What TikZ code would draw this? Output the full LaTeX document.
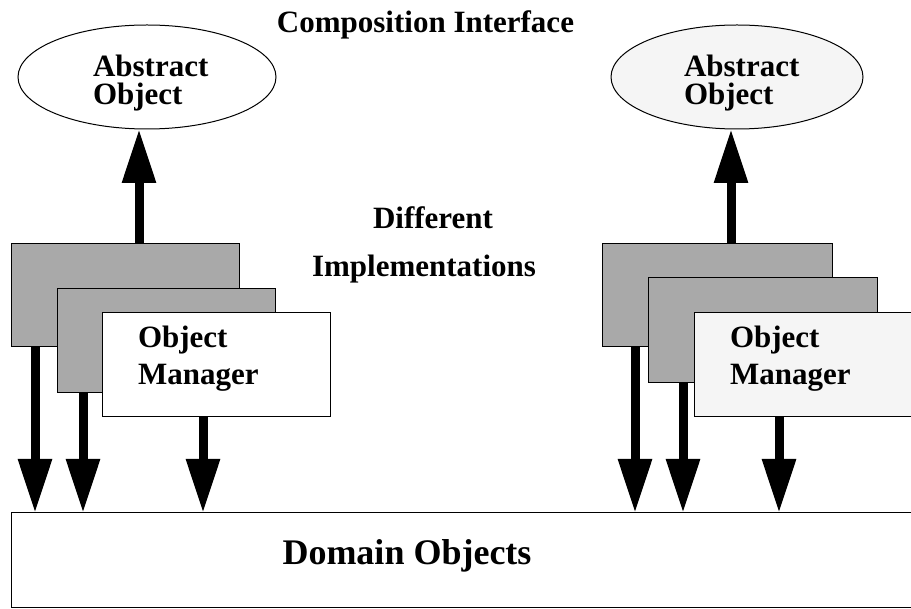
\documentclass[tikz,border=0pt]{standalone}
\usepackage{fontspec}
\setmainfont{Liberation Serif}
\usetikzlibrary{arrows.meta,shapes.geometric}
\definecolor{implgray}{HTML}{A9A9A9}
\definecolor{palefill}{HTML}{F5F5F5}
\begin{document}
\begin{tikzpicture}[x=1pt,y=-1pt,
  lbl/.style={font=\fontsize{31}{28}\selectfont\bfseries, inner sep=0pt, outer sep=0pt},
  twoline/.style={lbl, align=left, anchor=north west, font=\fontsize{31}{#1}\selectfont\bfseries},
  absobj/.style={ellipse, draw, line width=1pt, inner sep=0pt, outer sep=0pt, minimum height=104pt},
  implbox/.style={rectangle, draw, line width=1pt, inner sep=0pt, outer sep=0pt},
  bigarrow/.style={line width=9pt, -{Triangle[length=54pt,width=32pt]}}
]
\clip (0,0) rectangle (911,609);
\fill[white] (0,0) rectangle (911,609);

% headings
\node[lbl, anchor=base] (comp) at (425.5,33) {Composition Interface};
\node[lbl, anchor=base] (diff) at (433,229) {Different};
\node[lbl, anchor=base] (impl) at (424,277) {Implementations};

% shared domain layer
\node[implbox, minimum width=919pt, minimum height=94pt] (dom) at (470.5,560) {};
\node[lbl, font=\fontsize{36}{40}\selectfont\bfseries, anchor=base] (domtxt) at (407,565) {Domain Objects};

% left stack
\node[absobj, fill=white, minimum width=258pt] (e1) at (147,77) {};
\node[twoline=28.5] (a1) at ([shift={(75,29.5)}]e1.north -| e1.west) {Abstract\\Object};
\node[implbox, fill=implgray, minimum width=228pt, minimum height=103pt] (b1a) at (125,295.5) {};
\node[implbox, fill=implgray, minimum width=218pt, minimum height=104pt] (b1b) at (166,341) {};
\node[implbox, fill=white, minimum width=228pt, minimum height=104pt] (b1c) at (216,365) {};
\node[twoline=37] (m1) at ([shift={(36,12.5)}]b1c.north west) {Object\\Manager};

% right stack
\node[absobj, fill=palefill, minimum width=252pt] (e2) at (737,77) {};
\node[twoline=28.5] (a2) at ([shift={(73,29.5)}]e2.north -| e2.west) {Abstract\\Object};
\node[implbox, fill=implgray, minimum width=230pt, minimum height=103pt] (b2a) at (717,295.5) {};
\node[implbox, fill=implgray, minimum width=229pt, minimum height=105pt] (b2b) at (762.5,330.5) {};
\node[implbox, fill=palefill, minimum width=240pt, minimum height=104pt] (b2c) at (814,365) {};
\node[twoline=37] (m2) at ([shift={(36,12.5)}]b2c.north west) {Object\\Manager};

% interface arrows
\draw[bigarrow] ([xshift=14pt]b1a.north) -- ([xshift=14pt]b1a.north |- e1.south);
\draw[bigarrow] ([xshift=14pt]b2a.north) -- ([xshift=14pt]b2a.north |- e2.south);

% arrows down to the domain objects
\draw[bigarrow] ([xshift=24pt]b1a.south west) -- ([xshift=24pt]b1a.south west |- dom.north);
\draw[bigarrow] ([xshift=26pt]b1b.south west) -- ([xshift=26pt]b1b.south west |- dom.north);
\draw[bigarrow] ([xshift=101pt]b1c.south west) -- ([xshift=101pt]b1c.south west |- dom.north);
\draw[bigarrow] ([xshift=33pt]b2a.south west) -- ([xshift=33pt]b2a.south west |- dom.north);
\draw[bigarrow] ([xshift=35pt]b2b.south west) -- ([xshift=35pt]b2b.south west |- dom.north);
\draw[bigarrow] ([xshift=85pt]b2c.south west) -- ([xshift=85pt]b2c.south west |- dom.north);
\end{tikzpicture}
\end{document}
